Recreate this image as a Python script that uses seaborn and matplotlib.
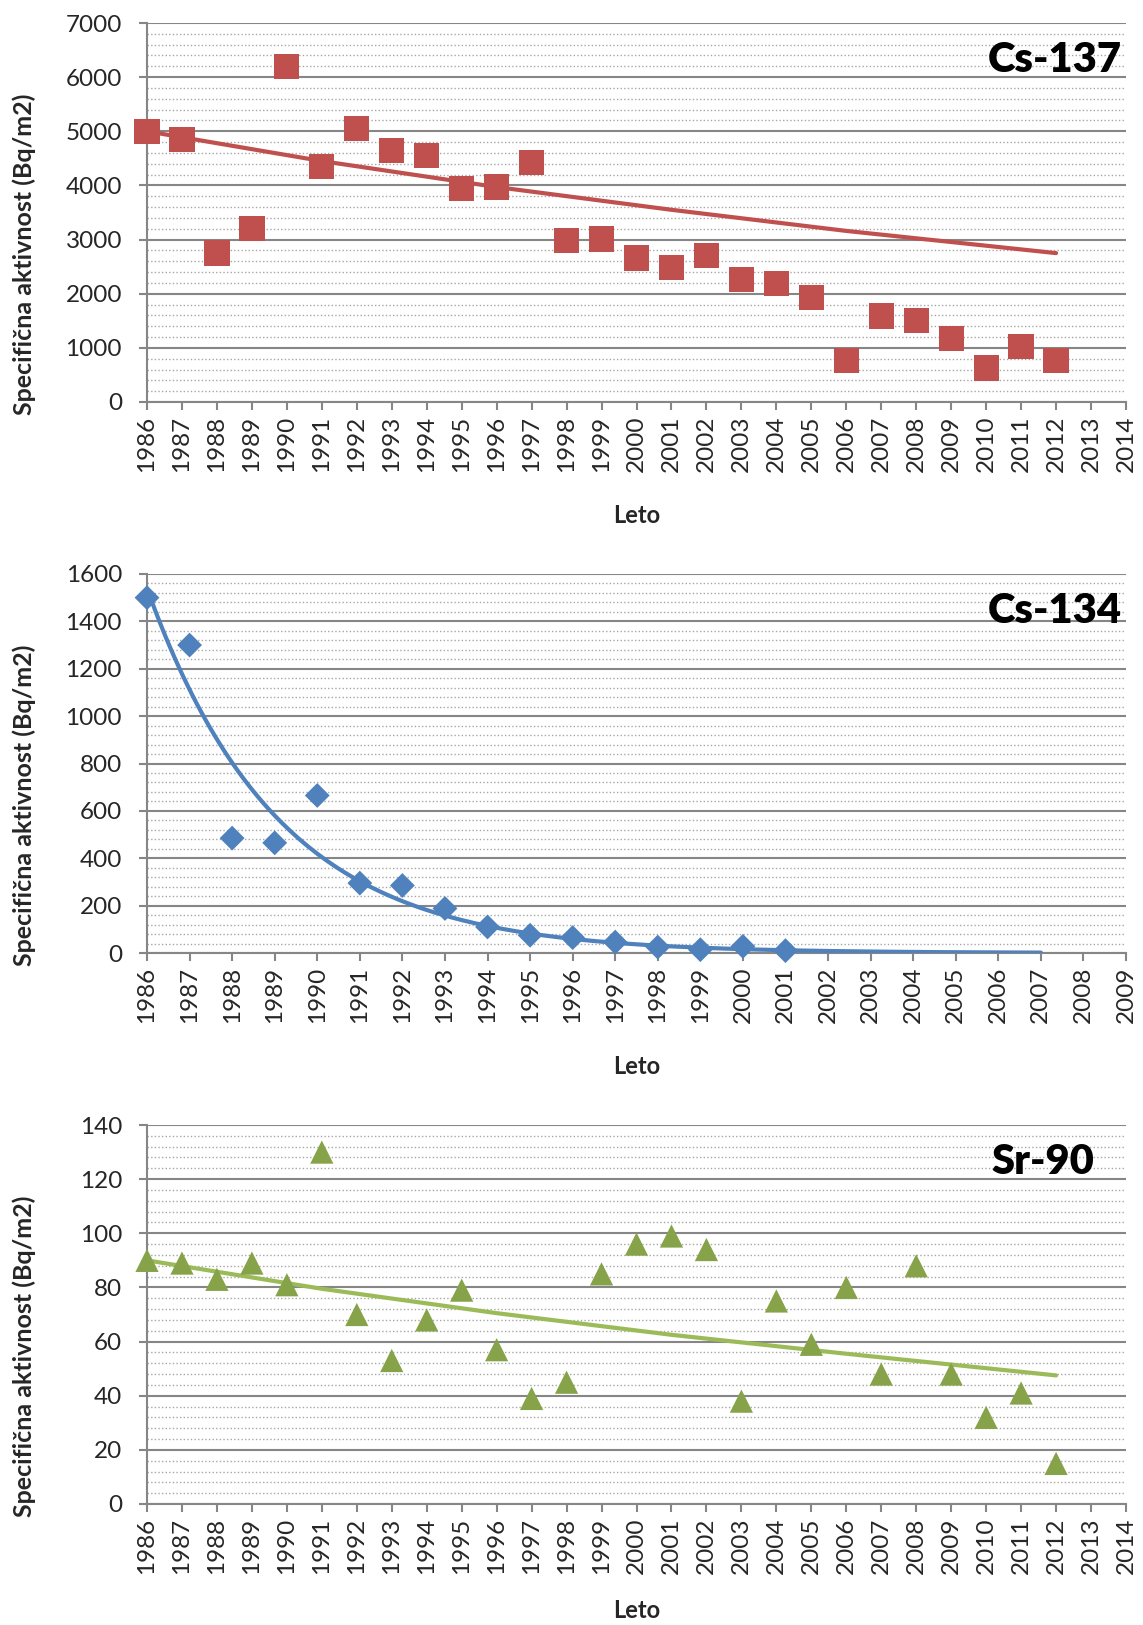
import numpy as np
import pandas as pd
import matplotlib
matplotlib.use("Agg")
import matplotlib.pyplot as plt
from matplotlib.ticker import MultipleLocator
import seaborn as sns

# values
years_cs137 = list(range(1986, 2013))
cs137 = [5000, 4850, 2750, 3200, 6200, 4350, 5050, 4650, 4550, 3950, 3970, 4430,
         2980, 3010, 2660, 2480, 2700, 2260, 2190, 1930, 770, 1590, 1510, 1170,
         630, 1030, 760]
trend_years_cs137 = [1986, 1991, 1996, 2001, 2006, 2012]
trend_cs137 = [5000, 4450, 3970, 3550, 3160, 2750]

years_cs134 = list(range(1986, 2002))
cs134 = [1500, 1300, 485, 465, 665, 295, 285, 188, 110, 75, 65, 46, 25, 14, 28, 10]

years_sr90 = list(range(1986, 2013))
sr90 = [90, 89, 83, 89, 81, 130, 70, 53, 68, 79, 57, 39, 45, 85, 96, 99, 94,
        38, 75, 59, 80, 48, 88, 48, 32, 41, 15]
trend_years_sr90 = [1986, 1991, 1996, 2001, 2006, 2012]
trend_sr90 = [90, 79.5, 70.5, 62.5, 55.5, 47.5]

sns.set_theme(style="white")
plt.rcParams['font.family'] = ['Lato', 'DejaVu Sans']

GRID = "#868686"
MINOR = "#A6A6A6"


def exp_trend(x, y, x_end):
    # Excel style exponential trendline: ln(y) = a + b*x
    b, a = np.polyfit(x, np.log(y), 1)
    xt = np.linspace(x[0], x_end, 200)
    return pd.DataFrame({"Leto": xt, "trend": np.exp(a + b * xt)})


def panel(ax, years, vals, trend, xmax, ymax, major, title, title_x,
          mcolor, lcolor, marker, msize, xlab_y=-0.27):
    df = pd.DataFrame({"Leto": years, "val": vals})
    sns.lineplot(data=trend, x="Leto", y="trend", ax=ax, color=lcolor,
                 linewidth=3.0, zorder=3)
    sns.scatterplot(data=df, x="Leto", y="val", ax=ax, marker=marker, s=msize,
                    color=mcolor, edgecolor="none", linewidth=0, zorder=4,
                    clip_on=False)
    ax.set_xlim(1986, xmax)
    ax.set_ylim(0, ymax)
    ax.set_xticks(range(1986, xmax + 1))
    ax.set_xticklabels([str(y) for y in range(1986, xmax + 1)], rotation=90)
    ax.yaxis.set_major_locator(MultipleLocator(major))
    ax.yaxis.set_minor_locator(MultipleLocator(major / 5))
    ax.grid(True, which="major", axis="y", color=GRID, linewidth=1.5)
    ax.grid(True, which="minor", axis="y", color=MINOR, linewidth=1.0,
            linestyle=(0, (1, 1.6)))
    ax.grid(False, axis="x")
    for s in ["top", "right"]:
        ax.spines[s].set_visible(False)
    for s in ["left", "bottom"]:
        ax.spines[s].set_color(GRID)
        ax.spines[s].set_linewidth(1.5)
    ax.tick_params(which="major", length=6, width=1.5, color=GRID,
                   labelsize=17.5, left=True, bottom=True)
    ax.tick_params(axis="y", pad=12)
    ax.tick_params(axis="x", pad=4)
    ax.tick_params(which="minor", length=0)
    ax.set_xlabel("Leto", fontsize=17, fontweight="bold")
    ax.set_ylabel("Specifična aktivnost (Bq/m2)", fontsize=18, fontweight="bold")
    ax.xaxis.set_label_coords(0.5, xlab_y)
    ax.yaxis.set_label_coords(-0.113, 0.39)
    ax.text(title_x, 0.87, title, transform=ax.transAxes, ha="right",
            va="baseline", fontsize=30, fontweight="heavy", color="black")
    ax.set_axisbelow(True)


fig = plt.figure(figsize=(11.43, 16.25), dpi=100)
L, W, H = 147 / 1143, 979 / 1143, 379 / 1625
ax1 = fig.add_axes([L, (1625 - 402) / 1625, W, H])
ax2 = fig.add_axes([L, (1625 - 953) / 1625, W, H])
ax3 = fig.add_axes([L, (1625 - 1504) / 1625, W, H])

tr137 = pd.DataFrame({"Leto": trend_years_cs137, "trend": trend_cs137})
tr134 = exp_trend(np.array(years_cs134, float), np.array(cs134, float), 2007)
tr90 = pd.DataFrame({"Leto": trend_years_sr90, "trend": trend_sr90})

panel(ax1, years_cs137, cs137, tr137, 2014, 7000, 1000, "Cs-137", 0.996,
      "#C0504D", "#C0504D", "s", 330)
panel(ax2, years_cs134, cs134, tr134, 2009, 1600, 200, "Cs-134", 0.996,
      "#4F81BD", "#4F81BD", "D", 160)
panel(ax3, years_sr90, sr90, tr90, 2014, 140, 20, "Sr-90", 0.968,
      "#87A34A", "#9BBB59", "^", 280, xlab_y=-0.25)

fig.savefig("out.png", dpi=100, facecolor="white")
